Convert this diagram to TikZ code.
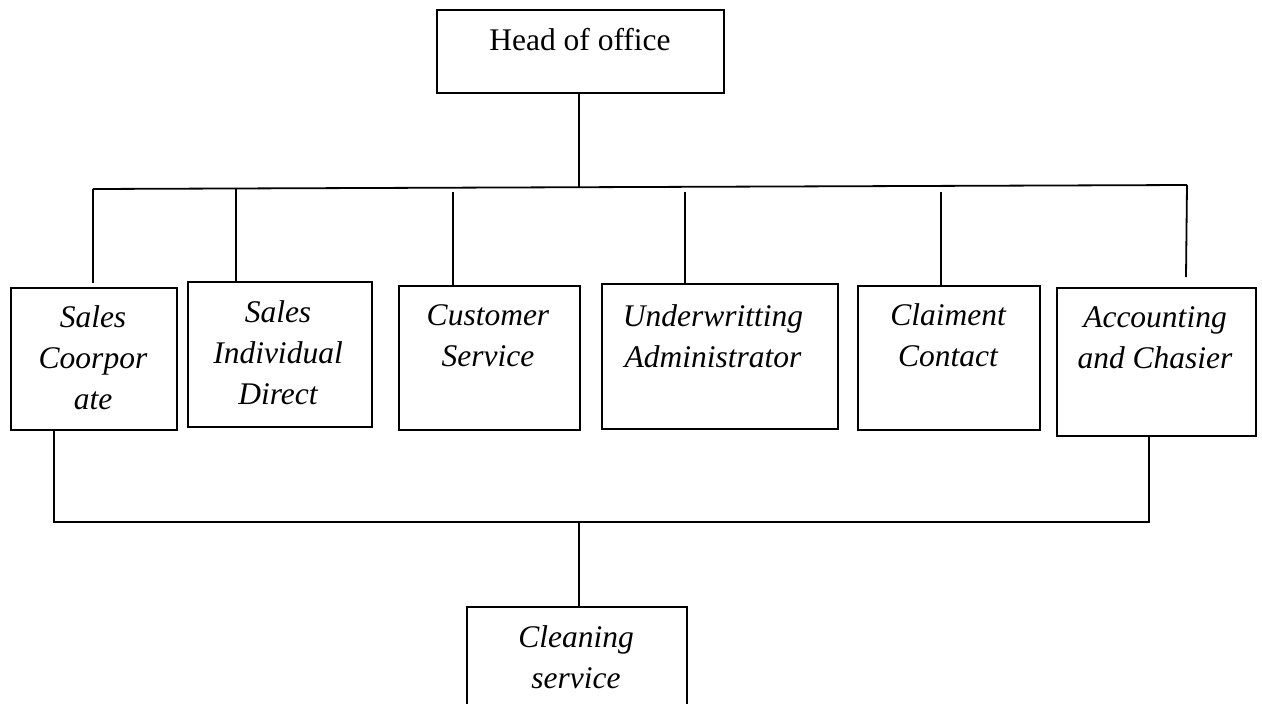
\documentclass[tikz,border=0pt]{standalone}
\usepackage{fontspec}
\setmainfont{Liberation Serif}
\begin{document}
\begin{tikzpicture}[x=1pt,y=-1pt,line width=1.8pt,
  box/.style={draw,line width=1.8pt,rectangle,inner sep=0pt,anchor=north west},
  lbl/.style={anchor=base,inner sep=0pt,font=\fontsize{31.5}{41}\selectfont\itshape},
  hlbl/.style={anchor=base,inner sep=0pt,font=\fontsize{31.5}{41}\selectfont},
  conn/.style={draw,line width=1.8pt}]
\useasboundingbox (0,0) rectangle (1262,704);
\clip (0,0) rectangle (1262,704);
% boxes
\node[box,minimum width=287pt,minimum height=83pt] (head) at (436,9) {};
\node[box,minimum width=166pt,minimum height=142pt] (sc) at (10,287) {};
\node[box,minimum width=184pt,minimum height=145pt] (si) at (187,281) {};
\node[box,minimum width=181pt,minimum height=144pt] (cs) at (398,285) {};
\node[box,minimum width=236pt,minimum height=145pt] (ua) at (601,283) {};
\node[box,minimum width=182pt,minimum height=144pt] (cc) at (857,285) {};
\node[box,minimum width=199pt,minimum height=148pt] (ac) at (1056,287) {};
\node[box,minimum width=220pt,minimum height=130pt] (cl) at (466,606) {};
% labels
\node[hlbl] (headT) at (580,50) {Head of office};
\node[lbl] (scT) at (93,327) {\begin{tabular}[t]{@{}c@{}}Sales\\Coorpor\\ate\end{tabular}};
\node[lbl] (siT) at (278,322) {\begin{tabular}[t]{@{}c@{}}Sales\\Individual\\Direct\end{tabular}};
\node[lbl] (csT) at (488,325) {\begin{tabular}[t]{@{}c@{}}Customer\\Service\end{tabular}};
\node[lbl] (uaT) at (713,326) {\begin{tabular}[t]{@{}c@{}}Underwritting\\Administrator\end{tabular}};
\node[lbl] (ccT) at (948,325) {\begin{tabular}[t]{@{}c@{}}Claiment\\Contact\end{tabular}};
\node[lbl] (acT) at (1155,327) {\begin{tabular}[t]{@{}c@{}}Accounting\\and Chasier\end{tabular}};
\node[lbl] (clT) at (576,647) {\begin{tabular}[t]{@{}c@{}}Cleaning\\service\end{tabular}};
% bus coordinates
\coordinate (busM) at (579,187);
\coordinate (busL) at (93,189);
\coordinate (busR) at (1187,185);
\coordinate (scEnd) at (93,283);
\coordinate (acEnd) at (1186,277);
\coordinate (lowL) at (54,522);
\coordinate (lowR) at (1149,522);
\coordinate (lowM) at (579,522);
% connectors
\draw[conn] (head.south -| busM) -- (busM);
\draw[conn] (busL) -- (busR);
\draw[conn] (busL) -- (scEnd);
\draw[conn] (236,188.5) -- (si.north -| 236,0);
\draw[conn] (453,192) -- (cs.north -| 453,0);
\draw[conn] (685,192) -- (ua.north -| 685,0);
\draw[conn] (941,192) -- (cc.north -| 941,0);
\draw[conn] (busR) -- (acEnd);
\draw[conn] (sc.south -| lowL) -- (lowL) -- (lowR) -- (ac.south -| lowR);
\draw[conn] (lowM) -- (cl.north -| lowM);
\end{tikzpicture}
\end{document}
